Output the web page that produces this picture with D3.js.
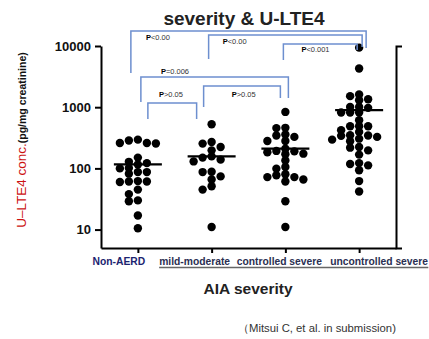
<!DOCTYPE html>
<html lang="en">
<head>
<meta charset="UTF-8">
<title>severity & U-LTE4</title>
<script src="https://cdn.jsdelivr.net/npm/d3@7"></script>
<style>
  body { margin: 0; background: #fff; }
  svg { display: block; font-family: Arial, "Liberation Sans", sans-serif; }
</style>
</head>
<body>
<svg id="svg"></svg>
<script>
// values (pg/mg creatinine)
const categories = ["Non-AERD", "mild-moderate", "controlled severe", "uncontrolled severe"];
const nonAERD = [295, 285, 260, 260, 255, 150, 128, 122, 116, 101, 100, 87, 87, 82,
                 62, 61, 61, 60, 45, 38, 30, 29, 17, 10.5];
const mildModerate = [526, 270, 254, 224, 197, 157, 150, 139, 130, 88, 87, 74, 66, 51, 45, 11];
const controlledSevere = [837, 460, 455, 357, 344, 327, 280, 280, 210, 193, 190, 184, 174, 170,
                          135, 105, 99, 80, 77, 72, 72, 66, 61, 29, 11];
const uncontrolledSevere = [9400, 4300, 1615, 1515, 1352, 1300, 1010, 1010, 975, 818, 818, 818,
                            612, 488, 488, 488, 420, 395, 347, 345, 340, 327, 306, 295, 277,
                            224, 218, 197, 168, 122, 118, 112, 93, 62, 42];
const centerLines = [116, 157, 210, 893];
const yTicks = [10, 100, 1000, 10000];
const pLabels = ["P<0.00", "P<0.00", "P<0.001", "P=0.006", "P>0.05", "P>0.05"];

const seriesValues = [nonAERD, mildModerate, controlledSevere, uncontrolledSevere];

// bracket annotations: groups joined, level of the bar and of each leg end (same units as y)
const brackets = [
  {from: 0, to: 3, top: 17580, endA: 3620, endB: 9280, dxA: -7, dxB: 7, lx: 15, ly: 9},
  {from: 1, to: 3, top: 15120, endA: 6130, endB: 9630, dxA: -3, dxB: 3, lx: 14, ly: 9},
  {from: 2, to: 3, top: 10780, endA: 5900, endB: 8600, dxA: -2, dxB: -2, lx: 18, ly: 8},
  {from: 0, to: 2, top: 3110, endA: 1217, endB: 1413, dxA: 3, dxB: 3, lx: 20, ly: -3},
  {from: 0, to: 1, top: 1170, endA: 641, endB: 641, dxA: 10, dxB: -15, lx: 11, ly: -6},
  {from: 1, to: 2, top: 2220, endA: 1007, endB: 1413, dxA: -8, dxB: -5, lx: 28, ly: 11}
];

const width = 429, height = 339;
const svg = d3.select("#svg").attr("width", width).attr("height", height);

const x = d3.scalePoint().domain(categories).range([101, 396]).padding(0.5);
const y = d3.scaleLog().domain([5, 10000]).range([248, 46]);

// axes
const gy = svg.append("g").attr("transform", "translate(101,0)")
  .call(d3.axisLeft(y).tickValues(yTicks).tickFormat(d3.format("d")).tickSize(6).tickSizeOuter(0).tickPadding(4));
gy.selectAll("text").attr("font-size", 13).attr("font-weight", "bold").attr("fill", "#111")
  .attr("font-family", "Arial, 'Liberation Sans', sans-serif");

const gx = svg.append("g").attr("transform", "translate(0,248)")
  .call(d3.axisBottom(x).tickSize(5).tickSizeOuter(0).tickFormat(""));

const gr = svg.append("g").attr("transform", "translate(396,0)")
  .call(d3.axisRight(y).tickValues([]).tickSizeOuter(6));

svg.selectAll(".domain, .tick line").attr("stroke", "#000").attr("stroke-width", 2);

// category labels
const labelDx = [-19, -17, -6, 20];
const labelColor = ["#1b2470", "#2b2f52", "#2b2f52", "#2b2f52"];
const catLabels = svg.append("g").selectAll("text").data(categories).join("text")
  .attr("x", (d, i) => x(d) + labelDx[i])
  .attr("y", 265)
  .attr("text-anchor", "middle")
  .attr("font-size", 10.3)
  .attr("font-weight", "bold")
  .attr("fill", (d, i) => labelColor[i])
  .text(d => d);

const nodes = catLabels.nodes();
const b1 = nodes[1].getBBox(), b3 = nodes[3].getBBox();
svg.append("line")
  .attr("x1", b1.x).attr("x2", b3.x + b3.width)
  .attr("y1", 267.5).attr("y2", 267.5)
  .attr("stroke", "#666").attr("stroke-width", 1.3);

// dots, laid out in columns like a prism scatter
const colStep = 9, minGap = 5.5, r = 4.2;
function swarm(values, cx) {
  const placed = [];
  const cols = [0, -1, 1, -2, 2, -3, 3, -4, 4];
  return values.slice().sort((a, b) => b - a).map(v => {
    const py = y(v);
    const c = cols.find(c => placed.every(p => p.c !== c || Math.abs(p.py - py) >= minGap));
    placed.push({c, py});
    return {v, cx: cx + c * colStep, cy: py};
  });
}

seriesValues.forEach((vals, i) => {
  const cx = x(categories[i]);
  svg.append("g").selectAll("circle").data(swarm(vals, cx)).join("circle")
    .attr("cx", d => d.cx).attr("cy", d => d.cy).attr("r", r).attr("fill", "#000");
  svg.append("line")
    .attr("x1", cx - 24).attr("x2", cx + 24)
    .attr("y1", y(centerLines[i])).attr("y2", y(centerLines[i]))
    .attr("stroke", "#000").attr("stroke-width", 2.2);
});

// significance brackets
const gb = svg.append("g");
brackets.forEach((b, i) => {
  const xa = x(categories[b.from]) + b.dxA, xb = x(categories[b.to]) + b.dxB;
  const yt = y(b.top);
  gb.append("path")
    .attr("d", `M${xa},${y(b.endA)}V${yt}H${xb}V${y(b.endB)}`)
    .attr("fill", "none").attr("stroke", "#6d8fcf").attr("stroke-width", 1.5);
  const t = gb.append("text")
    .attr("x", xa + b.lx).attr("y", yt + b.ly)
    .attr("font-size", 7.5).attr("fill", "#333");
  t.append("tspan").attr("font-weight", "bold").attr("fill", "#000").text(pLabels[i].slice(0, 1));
  t.append("tspan").text(pLabels[i].slice(1));
});

// titles
svg.append("text")
  .attr("x", 244).attr("y", 25)
  .attr("text-anchor", "middle")
  .attr("font-size", 19).attr("font-weight", "bold").attr("fill", "#222")
  .text("severity & U-LTE4");

svg.append("text")
  .attr("x", 248).attr("y", 294)
  .attr("text-anchor", "middle")
  .attr("font-size", 15.5).attr("font-weight", "bold").attr("fill", "#222")
  .text("AIA severity");

svg.append("text")
  .attr("x", 238).attr("y", 332)
  .attr("font-size", 11.3).attr("fill", "#333")
  .text("（Mitsui C, et al. in submission)");

const yl = svg.append("text")
  .attr("transform", "translate(25.5,140) rotate(-90)")
  .attr("text-anchor", "middle");
yl.append("tspan").attr("font-size", 13.5).attr("fill", "#cc1111").text("U–LTE4 conc.");
yl.append("tspan").attr("font-size", 10.5).attr("font-weight", "bold").attr("fill", "#111").text("(pg/mg creatinine)");
</script>
</body>
</html>
